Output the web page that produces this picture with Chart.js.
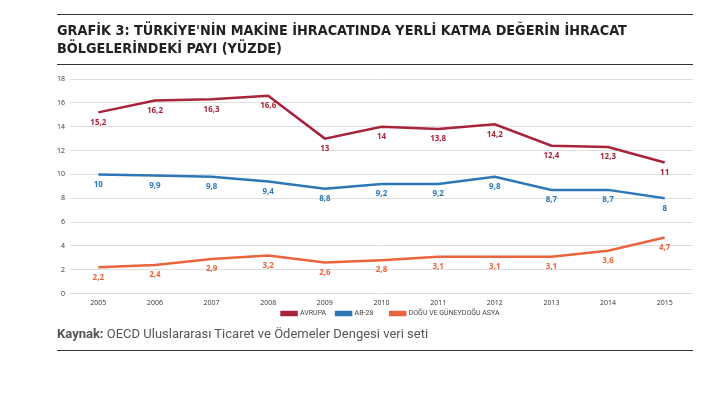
<!DOCTYPE html>
<html>
<head>
<meta charset="utf-8">
<script src="https://cdn.jsdelivr.net/npm/chart.js@4"></script>
<style>
  html, body { margin: 0; padding: 0; background: #fff; }
  #wrap { position: relative; width: 710px; height: 393px; overflow: hidden; }
  #chart { position: absolute; left: 0; top: 0; }
  .rule { position: absolute; left: 57px; width: 636px; height: 1px; background: #333; }
  #title { position: absolute; left: 57px; top: 21px; font-family: "DejaVu Sans"; font-stretch: condensed;
           font-weight: bold; font-size: 14.3px; line-height: 18px; color: #222; }
  #source { position: absolute; left: 57px; top: 326px; font-family: "Roboto"; font-size: 13px; color: #555; }
  #source b { font-weight: bold; }
</style>
</head>
<body>
<div id="wrap">
  <canvas id="chart" width="710" height="393"></canvas>
  <div class="rule" style="top:14px"></div>
  <div id="title">GRAFİK 3: TÜRKİYE'NİN MAKİNE İHRACATINDA YERLİ KATMA DEĞERİN İHRACAT<br>BÖLGELERİNDEKİ PAYI (YÜZDE)</div>
  <div class="rule" style="top:64px"></div>
  <div id="source"><b>Kaynak:</b> OECD Uluslararası Ticaret ve Ödemeler Dengesi veri seti</div>
  <div class="rule" style="top:350px"></div>
</div>
<script>
var years = ["2005", "2006", "2007", "2008", "2009", "2010", "2011", "2012", "2013", "2014", "2015"];
var avrupa = [15.2, 16.2, 16.3, 16.6, 13, 14, 13.8, 14.2, 12.4, 12.3, 11];
var ab28 = [10, 9.9, 9.8, 9.4, 8.8, 9.2, 9.2, 9.8, 8.7, 8.7, 8];
var doguAsya = [2.2, 2.4, 2.9, 3.2, 2.6, 2.8, 3.1, 3.1, 3.1, 3.6, 4.7];
var seriesNames = ["AVRUPA", "AB-28", "DOĞU VE GÜNEYDOĞU ASYA"];
var seriesColors = ["#a8243a", "#2d77b6", "#e8653d"];
var legendGaps = ["    ", "        ", ""];

// values written under each point, comma decimal
var valueLabels = {
  id: 'valueLabels',
  afterDatasetsDraw: function (chart) {
    var ctx = chart.ctx;
    ctx.save();
    ctx.font = 'bold 8px "Open Sans"';
    ctx.textAlign = 'center';
    ctx.textBaseline = 'middle';
    chart.data.datasets.forEach(function (ds, i) {
      ctx.fillStyle = ds.borderColor;
      chart.getDatasetMeta(i).data.forEach(function (pt, j) {
        ctx.fillText(String(ds.data[j]).replace('.', ','), pt.x, pt.y + 10);
      });
    });
    ctx.restore();
  }
};

// pull the legend a bit closer to the year labels and to the right
var legendNudge = {
  id: 'legendNudge',
  afterLayout: function (chart) {
    var lg = chart.legend;
    lg.top -= 5; lg.bottom -= 5;
    lg.left += 20; lg.right += 20;
  }
};

new Chart("chart", {
  type: "line",
  data: {
    labels: years,
    datasets: [avrupa, ab28, doguAsya].map(function (d, i) {
      return {
        label: seriesNames[i],
        data: d,
        borderColor: seriesColors[i],
        backgroundColor: seriesColors[i],
        borderWidth: 2.5,
        pointRadius: 0,
        tension: 0
      };
    })
  },
  options: {
    responsive: false,
    animation: false,
    layout: { padding: { left: 48, right: 17, top: 79, bottom: 61 } },
    plugins: {
      title: { display: false },
      tooltip: { enabled: false },
      legend: {
        position: 'bottom',
        labels: {
          boxWidth: 15, boxHeight: 3, padding: 3, color: '#444',
          font: { family: 'Roboto', size: 7 },
          generateLabels: function (chart) {
            var items = Chart.defaults.plugins.legend.labels.generateLabels(chart);
            items.forEach(function (it, k) { it.text += legendGaps[k]; });
            return items;
          }
        }
      }
    },
    scales: {
      x: {
        offset: true,
        grid: { display: false, drawTicks: false },
        border: { display: false },
        ticks: { color: '#333', font: { family: 'Open Sans', size: 7 }, padding: 5 }
      },
      y: {
        min: 0, max: 18,
        afterFit: function (s) { s.width = 22; },
        grid: { color: '#dedede', drawTicks: false },
        border: { display: false },
        ticks: { stepSize: 2, color: '#333', font: { family: 'Open Sans', size: 7 }, padding: 5 }
      }
    }
  },
  plugins: [valueLabels, legendNudge]
});
</script>
</body>
</html>
